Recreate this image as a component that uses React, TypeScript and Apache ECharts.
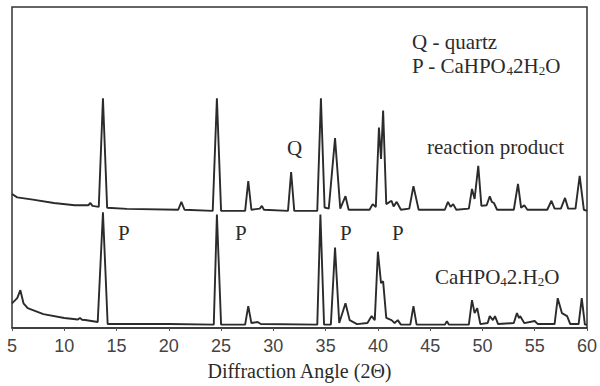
import React, { useEffect, useRef } from "react";
import * as echarts from "echarts";

// 2θ (degrees), relative intensity (strongest peak = 100)
const reactionProduct: [number, number][] = [
  [5.0, 15], [5.5, 12], [7.0, 10], [9.0, 7], [11.0, 5], [12.3, 5], [12.5, 7], [12.7, 4.4],
  [13.3, 3.5], [13.7, 100], [14.1, 2.7], [16.0, 1.8], [20.9, 1], [21.2, 8], [21.5, 1],
  [24.2, 0], [24.6, 100], [25.0, 0], [27.3, 0], [27.6, 26.5], [27.9, 1], [28.7, 2], [28.9, 4.4],
  [29.1, 1], [31.4, 0], [31.7, 34.5], [32.0, 0], [34.2, 0], [34.55, 100], [34.9, 3], [35.3, 2],
  [35.9, 64.6], [36.4, 2], [36.9, 13], [37.2, 1], [39.2, 1], [39.5, 6], [39.8, 3.5], [40.1, 74],
  [40.3, 46], [40.5, 89], [40.8, 6], [41.3, 9], [41.5, 4], [41.8, 8], [42.2, 1], [43.0, 2],
  [43.4, 22], [43.9, 1], [46.4, 1], [46.7, 8], [46.95, 3.5], [47.2, 6], [47.5, 1], [48.7, 2],
  [49.0, 19.5], [49.25, 10.6], [49.6, 40], [49.9, 4.4], [50.4, 5], [50.7, 13], [50.9, 8],
  [51.1, 7], [51.4, 1], [53.0, 1], [53.4, 24], [53.7, 2.7], [54.0, 5], [54.3, 1], [56.2, 1],
  [56.6, 9], [56.9, 2], [57.5, 2], [57.9, 11.5], [58.2, 2], [58.9, 2], [59.3, 31], [59.7, 1],
  [60.0, 0],
];

const dcpd: [number, number][] = [
  [5.0, 19], [5.5, 23.6], [5.8, 30.7], [6.1, 19], [6.5, 14.7], [8.0, 9.4], [10.0, 5.9],
  [11.3, 4.6], [11.5, 6], [11.7, 4.3], [12.0, 4.1], [13.2, 2.3], [13.7, 100], [14.15, 0.5],
  [20.0, 0.5], [24.3, 0], [24.6, 98], [25.0, 0], [27.3, 0], [27.6, 16.5], [27.9, 1.4],
  [28.5, 2.3], [28.8, 0.5], [34.2, 0], [34.5, 98], [34.85, 0], [35.5, 0], [35.9, 68.7],
  [36.3, 1.4], [36.9, 19], [37.3, 4], [38.0, 0.5], [39.0, 1.4], [39.4, 7.6], [39.7, 4],
  [40.0, 65], [40.3, 37], [40.5, 38.6], [40.8, 6], [41.3, 4], [41.6, 1.4], [41.9, 4], [42.2, 0],
  [43.1, 0], [43.4, 16.5], [43.7, 0], [46.4, 0], [46.6, 3], [46.8, 0], [48.7, 0], [49.0, 21.8],
  [49.25, 10.3], [49.5, 14.7], [49.8, 0.5], [50.5, 1.4], [50.7, 7.6], [51.0, 4], [51.2, 7.6],
  [51.5, 0.5], [53.0, 1.4], [53.3, 10.3], [53.5, 5.9], [53.6, 7.6], [54.0, 1.4], [55.0, 3.2],
  [55.3, 0.5], [56.9, 0.5], [57.2, 23.6], [57.6, 10.3], [58.1, 7.6], [58.4, 0.5], [59.2, 0.5],
  [59.5, 23.6], [59.8, 0], [60.0, 0],
];

const xMin = 5;
const xMax = 60;
const xStep = 5;

const SERIF = "'Liberation Serif', 'Times New Roman', serif";
const INK = "#2b2b2b";

export default function App() {
  const ref = useRef<HTMLDivElement>(null);

  useEffect(() => {
    if (!ref.current) return;
    const chart = echarts.init(ref.current, undefined, { renderer: "svg" });
    const rich = {
      s: { fontSize: 13, fontFamily: SERIF, fill: INK, verticalAlign: "bottom", padding: [8, 0, 0, 0] },
    } as any;
    const txt = (x: number, y: number, text: string, size = 21, withRich = false) => ({
      type: "text",
      x,
      y,
      style: {
        text,
        font: `${size}px ${SERIF}`,
        fontFamily: SERIF,
        fontSize: size,
        fill: INK,
        textVerticalAlign: "middle",
        verticalAlign: "middle",
        ...(withRich ? { rich } : {}),
      },
    });
    chart.setOption({
      animation: false,
      backgroundColor: "#fff",
      grid: {
        left: 12,
        right: 13,
        top: 7,
        bottom: 56,
        show: true,
        borderColor: "#333",
        borderWidth: 1.5,
      },
      xAxis: {
        type: "value",
        min: xMin,
        max: xMax,
        interval: xStep,
        axisLine: { show: true, onZero: false, lineStyle: { color: "#333", width: 1.5 } },
        axisTick: { show: true, length: 3, lineStyle: { color: "#555" } },
        splitLine: { show: false },
        axisLabel: {
          color: "#444",
          fontSize: 18,
          fontFamily: "'Liberation Sans', Arial, sans-serif",
          margin: 9,
        },
        name: "Diffraction Angle (2Θ)",
        nameLocation: "middle",
        nameGap: 33,
        nameTextStyle: { color: INK, fontSize: 20, fontFamily: SERIF },
      },
      yAxis: [
        { type: "value", min: -3, max: 283, show: false, splitLine: { show: false } },
        { type: "value", min: -104, max: 181, show: false, splitLine: { show: false } },
      ],
      series: [
        {
          type: "line",
          name: "CaHPO4.2H2O",
          yAxisIndex: 0,
          data: dcpd,
          symbol: "none",
          lineStyle: { color: INK, width: 1.9 },
        },
        {
          type: "line",
          name: "reaction product",
          yAxisIndex: 1,
          data: reactionProduct,
          symbol: "none",
          lineStyle: { color: INK, width: 1.9 },
        },
      ],
      graphic: [
        txt(412, 42, "Q - quartz"),
        txt(412, 66, "P - CaHPO{s|4}2H{s|2}O", 21, true),
        txt(427, 147, "reaction product"),
        txt(435, 277, "CaHPO{s|4}2.H{s|2}O", 21, true),
        txt(287, 148, "Q"),
        txt(118, 233, "P"),
        txt(235, 233, "P"),
        txt(340, 233, "P"),
        txt(392, 233, "P"),
      ],
    });
    return () => chart.dispose();
  }, []);

  return (
    <div
      ref={ref}
      style={{ position: "absolute", left: 0, top: 0, width: 600, height: 386, background: "#fff" }}
    />
  );
}
